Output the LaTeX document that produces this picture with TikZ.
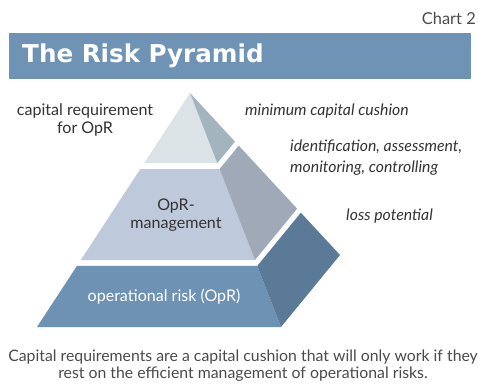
\documentclass[tikz,border=0pt]{standalone}
\usepackage{fontspec}
\setmainfont{Lato}
\newfontfamily\headfont{DejaVu Sans}
\usetikzlibrary{calc}

\definecolor{bandblue}{HTML}{6F93B4}
\definecolor{topfront}{HTML}{DCE3E6}
\definecolor{topside}{HTML}{A4B4BF}
\definecolor{midfront}{HTML}{BEC9DB}
\definecolor{midside}{HTML}{A0A9B7}
\definecolor{lowfront}{HTML}{6E92B4}
\definecolor{lowside}{HTML}{5A7A98}
\definecolor{textgray}{HTML}{333333}
\definecolor{capgray}{HTML}{4A4A4A}

\begin{document}
\begin{tikzpicture}[x=0.03cm,y=-0.03cm,
    lbl/.style={text=textgray,font=\fontsize{13.7}{15.5}\selectfont,align=center,inner sep=0pt},
    note/.style={lbl,font=\fontsize{13.5}{18}\selectfont\itshape,align=left,anchor=west}]
  \useasboundingbox (0,0) rectangle (478,385);

  % header band
  \fill[bandblue] (9,33) rectangle (471,79);
  \node[anchor=east,inner sep=0pt,text=capgray,font=\fontsize{14}{16}\selectfont] (chart) at (476,19) {Chart 2};
  \node[anchor=west,inner sep=0pt,text=white,font=\headfont\bfseries\fontsize{21}{24}\selectfont] (title) at (22,56) {The Risk Pyramid};

  % pyramid corners
  \coordinate (apex) at (190,93);
  \coordinate (fl) at (37,327);
  \coordinate (fr) at (281,327);
  \coordinate (bk) at (340,255);

  % tiers, cut along the edges from the apex
  \foreach \ta/\tb/\front/\side in {0/0.30/topfront/topside,0.325/0.714/midfront/midside,0.739/1/lowfront/lowside}{
    \fill[\front] ($(apex)!\ta!(fl)$) -- ($(apex)!\tb!(fl)$) -- ($(apex)!\tb!(fr)$) -- ($(apex)!\ta!(fr)$) -- cycle;
    \fill[\side] ($(apex)!\ta!(fr)$) -- ($(apex)!\tb!(fr)$) -- ($(apex)!\tb!(bk)$) -- ($(apex)!\ta!(bk)$) -- cycle;
  }

  % labels
  \node[lbl] (capreq) at (85,120) {capital requirement\\for OpR};
  \node[lbl] (mgmt) at (176,215) {OpR-\\management};
  \node[lbl,text=white] (oprisk) at (164,297) {operational risk (OpR)};
  \node[note] (mincap) at (245,111) {minimum capital cushion};
  \node[note] (ident) at (290,158) {identification, assessment,\\monitoring, controlling};
  \node[note] (loss) at (346,216) {loss potential};

  % caption
  \node[lbl,text=capgray,font=\fontsize{13.5}{14.5}\selectfont] (caption) at (243,366)
    {Capital requirements are a capital cushion that will only work if they\\rest on the efficient management of operational risks.};
\end{tikzpicture}
\end{document}
